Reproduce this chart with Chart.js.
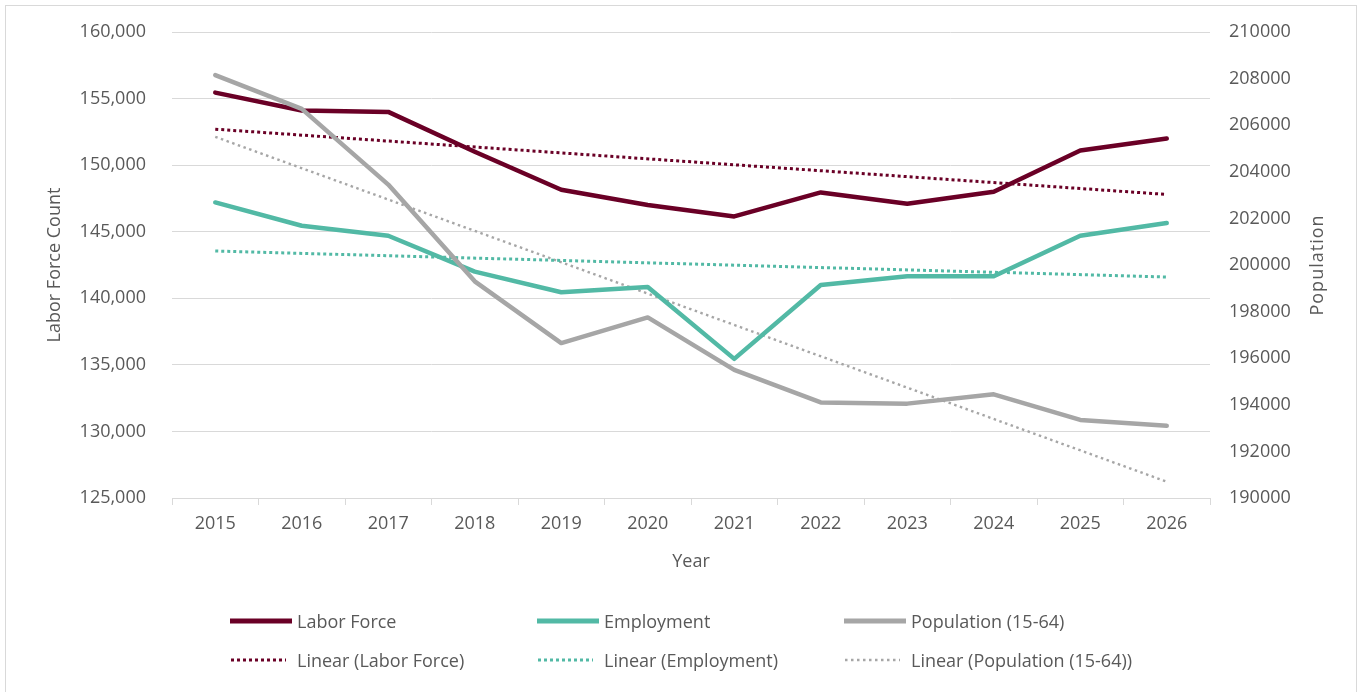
<!DOCTYPE html>
<html>
<head>
<meta charset="utf-8">
<script src="https://cdn.jsdelivr.net/npm/chart.js@4.4.0/dist/chart.umd.min.js"></script>
<style>
  html, body { margin: 0; padding: 0; background: #fff; }
  #wrap { position: relative; width: 1363px; height: 692px; font-family: 'Open Sans', sans-serif; color: #595959; }
  #frame { position: absolute; left: 5px; top: 5px; width: 1352px; height: 690px; border: 1px solid #d9d9d9; box-sizing: border-box; }
  #chart { position: absolute; left: 0; top: 0; }
  .lg { position: absolute; height: 24px; display: flex; align-items: center; font-size: 18px; white-space: nowrap; }
</style>
</head>
<body>
<div id="wrap">
  <div id="frame"></div>
  <canvas id="chart" width="1363" height="692"></canvas>
  <div id="legend"></div>
</div>
<script>
// values
const years = ['2015', '2016', '2017', '2018', '2019', '2020', '2021', '2022', '2023', '2024', '2025', '2026'];
const laborForce = [155450, 154100, 154000, 151000, 148150, 147000, 146150, 147950, 147100, 148000, 151100, 152000];
const employment = [147200, 145450, 144700, 142000, 140450, 140850, 135450, 141000, 141650, 141650, 144700, 145650];
const population = [208150, 206700, 203450, 199300, 196650, 197750, 195500, 194100, 194050, 194450, 193350, 193100];

// trend lines: end points only (2015 and 2026), joined straight
const laborTrend      = [152700, null, null, null, null, null, null, null, null, null, null, 147800];
const employmentTrend = [143550, null, null, null, null, null, null, null, null, null, null, 141600];
const populationTrend = [205500, null, null, null, null, null, null, null, null, null, null, 190700];

const leftTicks  = { min: 125000, max: 160000, step: 5000 };
const rightTicks = { min: 190000, max: 210000, step: 2000 };

const MAROON = '#6a0026';
const TEAL   = '#52b9a5';
const GREY   = '#a6a6a6';
const TEXT   = '#595959';
const GRID   = '#d9d9d9';

Chart.defaults.font.family = "'Open Sans', sans-serif";
Chart.defaults.font.size = 18;
Chart.defaults.color = TEXT;

const solid = (label, data, color, axis, order) => ({
  label, data, yAxisID: axis, order,
  borderColor: color, backgroundColor: color,
  borderWidth: 4.5, pointRadius: 0, tension: 0,
  borderJoinStyle: 'round', borderCapStyle: 'round',
});
const dotted = (label, data, color, axis, order, w, dash) => ({
  label, data, yAxisID: axis, order,
  borderColor: color, backgroundColor: color,
  borderWidth: w, borderDash: dash, pointRadius: 0, tension: 0,
  spanGaps: true,
});

const datasets = [
  solid('Population (15-64)', population, GREY, 'y1', 0),
  solid('Labor Force', laborForce, MAROON, 'y', 1),
  solid('Employment', employment, TEAL, 'y', 2),
  dotted('Linear (Labor Force)', laborTrend, MAROON, 'y', 3, 3, [3, 3]),
  dotted('Linear (Employment)', employmentTrend, TEAL, 'y', 4, 3, [3, 3]),
  dotted('Linear (Population (15-64))', populationTrend, GREY, 'y1', 5, 2.4, [2.5, 3.5]),
];

// right-hand title reads bottom-to-top like the left one
const rightTitle = {
  id: 'rightTitle',
  afterDraw(chart) {
    const s = chart.scales.y1;
    const ctx = chart.ctx;
    ctx.save();
    ctx.font = "18px 'Open Sans', sans-serif";
    ctx.fillStyle = TEXT;
    ctx.textAlign = 'center';
    ctx.textBaseline = 'middle';
    ctx.letterSpacing = '1px';
    ctx.translate(s.right - 45, (chart.chartArea.top + chart.chartArea.bottom) / 2);
    ctx.rotate(-Math.PI / 2);
    ctx.fillText('Population', 0, 0);
    ctx.restore();
  }
};

new Chart(document.getElementById('chart'), {
  type: 'line',
  data: { labels: years, datasets },
  plugins: [rightTitle],
  options: {
    responsive: false,
    animation: false,
    layout: { padding: { top: 32, left: 0, right: 0, bottom: 0 } },
    plugins: { legend: { display: false }, tooltip: { enabled: false } },
    scales: {
      x: {
        offset: true,
        grid: { offset: true, drawOnChartArea: false, drawTicks: true, tickLength: 7, color: GRID },
        border: { color: GRID },
        ticks: { padding: 8 },
        title: { display: true, text: 'Year', padding: { top: 0, bottom: 119 } },
        afterFit: s => { s.height = 194; },
      },
      y: {
        position: 'left',
        min: leftTicks.min, max: leftTicks.max,
        ticks: { stepSize: leftTicks.step, padding: 4, callback: v => v.toLocaleString('en-US') },
        grid: { color: GRID, drawTicks: true, tickLength: 22, tickColor: 'rgba(0,0,0,0)' },
        border: { display: false },
        title: { display: true, text: 'Labor Force Count', padding: { top: 44, bottom: 0 } },
        afterFit: s => { s.width = 172; },
      },
      y1: {
        position: 'right',
        min: rightTicks.min, max: rightTicks.max,
        ticks: { stepSize: rightTicks.step, padding: 4, callback: v => String(v) },
        grid: { drawOnChartArea: false, drawTicks: true, tickLength: 15, tickColor: 'rgba(0,0,0,0)' },
        border: { display: false },
        afterFit: s => { s.width = 153; },
      },
    },
  },
});

// legend, 3 columns x 2 rows, built from the datasets
const legendOrder = ['Labor Force', 'Employment', 'Population (15-64)',
  'Linear (Labor Force)', 'Linear (Employment)', 'Linear (Population (15-64))'];
const colX = [230, 537, 844];
const rowY = [621, 660];
document.getElementById('legend').innerHTML = legendOrder.map((name, i) => {
  const d = datasets.find(ds => ds.label === name);
  const dashed = !!d.borderDash;
  const len = dashed ? 56 : 62;
  const line = dashed
    ? `<line x1="1" y1="6" x2="${len}" y2="6" stroke="${d.borderColor}" stroke-width="${d.borderWidth}" stroke-dasharray="${d.borderDash.join(' ')}"/>`
    : `<line x1="0" y1="6" x2="${len}" y2="6" stroke="${d.borderColor}" stroke-width="5"/>`;
  const gap = dashed ? 11 : 5;
  return `<div class="lg" style="left:${colX[i % 3]}px;top:${rowY[Math.floor(i / 3)] - 12}px">
    <svg width="${len}" height="12" style="margin-right:${gap}px">${line}</svg>${name}</div>`;
}).join('');
</script>
</body>
</html>
